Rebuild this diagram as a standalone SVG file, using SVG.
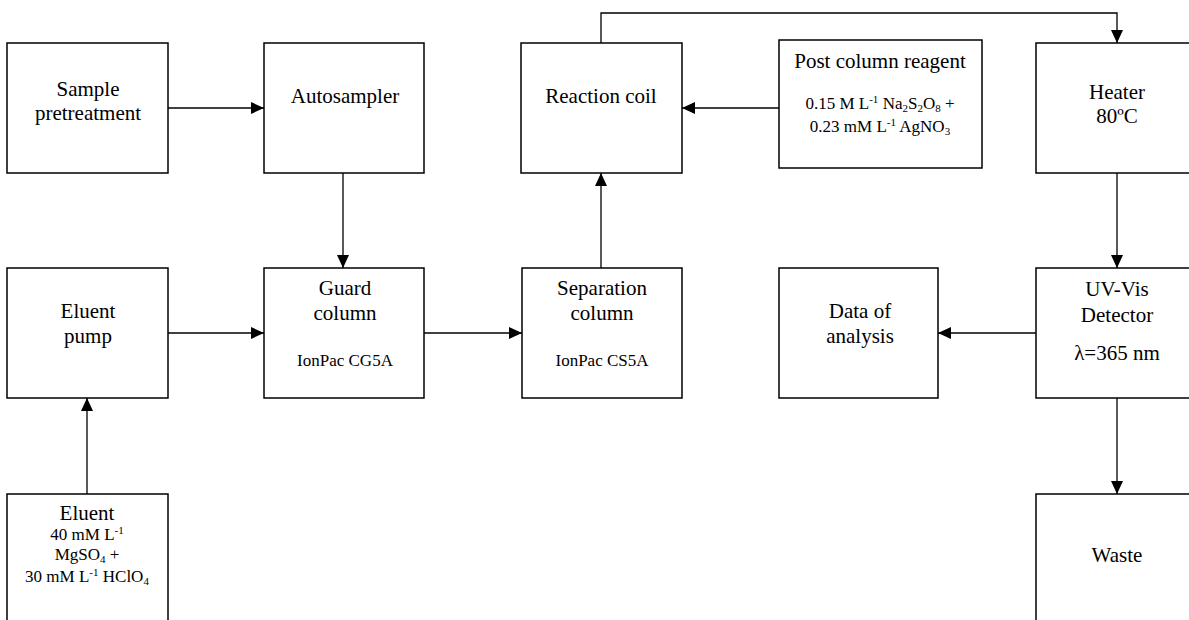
<svg xmlns="http://www.w3.org/2000/svg" width="1189" height="620" viewBox="0 0 1189 620">
<style>
.box{fill:#fff;stroke:#000;stroke-width:1.5}
.t{font-family:"Liberation Serif","Times New Roman",serif;font-size:21px;fill:#000;text-anchor:middle}
.s{font-family:"Liberation Serif","Times New Roman",serif;font-size:17px;fill:#000;text-anchor:middle}
.c{fill:none;stroke:#000;stroke-width:1.3}
</style>
<defs>
<marker id="ah" markerUnits="userSpaceOnUse" markerWidth="14" markerHeight="12" refX="13" refY="6" orient="auto">
<path d="M0,0 L13,6 L0,12 Z" fill="#000"/>
</marker>
</defs>
<rect width="1189" height="620" fill="#fff"/>
<g id="connectors">
<line class="c" x1="168" y1="108" x2="264" y2="108" marker-end="url(#ah)"/>
<line class="c" x1="343" y1="173" x2="343" y2="268" marker-end="url(#ah)"/>
<line class="c" x1="168" y1="333" x2="264" y2="333" marker-end="url(#ah)"/>
<line class="c" x1="424" y1="333" x2="522" y2="333" marker-end="url(#ah)"/>
<line class="c" x1="601" y1="268" x2="601" y2="173" marker-end="url(#ah)"/>
<line class="c" x1="779" y1="108" x2="682" y2="108" marker-end="url(#ah)"/>
<polyline class="c" points="601,43 601,13 1117,13 1117,43" marker-end="url(#ah)"/>
<line class="c" x1="1117" y1="173" x2="1117" y2="268" marker-end="url(#ah)"/>
<line class="c" x1="1036" y1="333" x2="938" y2="333" marker-end="url(#ah)"/>
<line class="c" x1="1117" y1="398" x2="1117" y2="494" marker-end="url(#ah)"/>
<line class="c" x1="87" y1="494" x2="87" y2="398" marker-end="url(#ah)"/>
</g>
<g id="sample">
<rect class="box" x="7" y="43" width="161" height="130"/>
<text class="t" x="88" y="96">Sample</text>
<text class="t" x="88" y="120">pretreatment</text>
</g>
<g id="autosampler">
<rect class="box" x="264" y="43" width="160" height="130"/>
<text class="t" x="345" y="103">Autosampler</text>
</g>
<g id="reaction">
<rect class="box" x="521" y="43" width="161" height="130"/>
<text class="t" x="601" y="103">Reaction coil</text>
</g>
<g id="postcolumn">
<rect class="box" x="779" y="40" width="203" height="128"/>
<text class="t" x="880" y="68">Post column reagent</text>
<text class="s" x="880" y="109">0.15 M L<tspan font-size="11" dy="-6">-1</tspan><tspan dy="6"> Na</tspan><tspan font-size="11" dy="3">2</tspan><tspan dy="-3">S</tspan><tspan font-size="11" dy="3">2</tspan><tspan dy="-3">O</tspan><tspan font-size="11" dy="3">8</tspan><tspan dy="-3"> +</tspan></text>
<text class="s" x="880" y="132">0.23 mM L<tspan font-size="11" dy="-6">-1</tspan><tspan dy="6"> AgNO</tspan><tspan font-size="11" dy="3">3</tspan></text>
</g>
<g id="heater">
<rect class="box" x="1036" y="43" width="160" height="130"/>
<text class="t" x="1117" y="99">Heater</text>
<text class="t" x="1117" y="123">80ºC</text>
</g>
<g id="pump">
<rect class="box" x="7" y="268" width="161" height="130"/>
<text class="t" x="88" y="318">Eluent</text>
<text class="t" x="88" y="343">pump</text>
</g>
<g id="guard">
<rect class="box" x="264" y="268" width="160" height="130"/>
<text class="t" x="345" y="295">Guard</text>
<text class="t" x="345" y="320">column</text>
<text class="s" x="345" y="366">IonPac CG5A</text>
</g>
<g id="separation">
<rect class="box" x="522" y="268" width="160" height="130"/>
<text class="t" x="602" y="295">Separation</text>
<text class="t" x="602" y="320">column</text>
<text class="s" x="602" y="366">IonPac CS5A</text>
</g>
<g id="data">
<rect class="box" x="779" y="268" width="159" height="130"/>
<text class="t" x="860" y="318">Data of</text>
<text class="t" x="860" y="343">analysis</text>
</g>
<g id="uvvis">
<rect class="box" x="1036" y="268" width="160" height="130"/>
<text class="t" x="1117" y="296">UV-Vis</text>
<text class="t" x="1117" y="322">Detector</text>
<text class="t" x="1117" y="360">λ=365 nm</text>
</g>
<g id="eluent">
<rect class="box" x="7" y="494" width="161" height="140"/>
<text class="t" x="87" y="520">Eluent</text>
<text class="s" x="87" y="540">40 mM L<tspan font-size="11" dy="-6">-1</tspan></text>
<text class="s" x="87" y="560">MgSO<tspan font-size="11" dy="3">4</tspan><tspan dy="-3"> +</tspan></text>
<text class="s" x="87" y="582">30 mM L<tspan font-size="11" dy="-6">-1</tspan><tspan dy="6"> HClO</tspan><tspan font-size="11" dy="3">4</tspan></text>
</g>
<g id="waste">
<rect class="box" x="1036" y="494" width="160" height="140"/>
<text class="t" x="1117" y="562">Waste</text>
</g>
</svg>
